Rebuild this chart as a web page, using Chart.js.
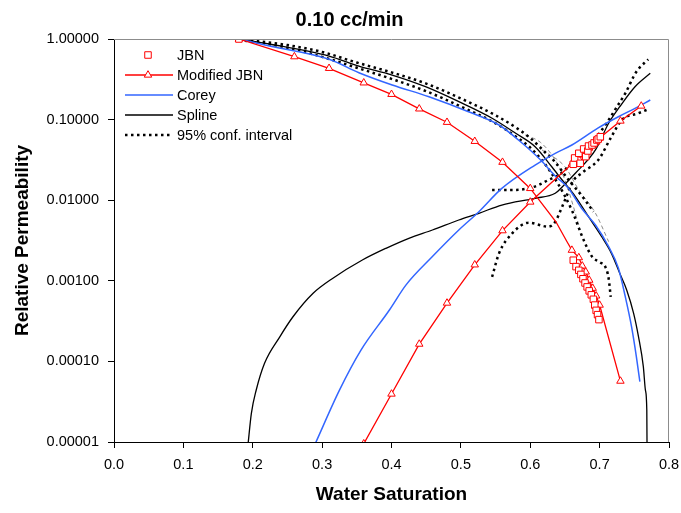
<!DOCTYPE html>
<html>
<head>
<meta charset="utf-8">
<script src="https://cdn.jsdelivr.net/npm/chart.js@4.4.0/dist/chart.umd.min.js"></script>
<style>
  html, body { margin: 0; padding: 0; background: #fff; }
</style>
</head>
<body>
<canvas id="relPermChart" width="681" height="513"></canvas>
<script>
// Values (Sw vs relative permeability)
const jbnSw  = [0.18, 0.662, 0.666, 0.670, 0.673, 0.676, 0.679, 0.682, 0.685, 0.688, 0.691, 0.693, 0.695, 0.697, 0.699];
const jbnKro = [1.0, 1.8e-3, 1.5e-3, 1.35e-3, 1.2e-3, 1.06e-3, 9.4e-4, 8.4e-4, 7.5e-4, 6.7e-4, 5.9e-4, 5.0e-4, 4.3e-4, 3.8e-4, 3.3e-4];
const jbnKrwSw = [0.662, 0.664, 0.670, 0.672, 0.677, 0.680, 0.683, 0.684, 0.689, 0.692, 0.696, 0.698, 0.701];
const jbnKrw   = [0.0279, 0.0334, 0.0382, 0.0287, 0.0432, 0.0347, 0.0408, 0.047, 0.0484, 0.0513, 0.0558, 0.0574, 0.0613];

const modKroSw = [0.18, 0.26, 0.31, 0.36, 0.40, 0.44, 0.48, 0.52, 0.56, 0.60, 0.637, 0.653, 0.66, 0.67, 0.675, 0.68, 0.685, 0.69, 0.695, 0.70, 0.73];
const modKro   = [1.0, 0.604, 0.433, 0.286, 0.206, 0.136, 0.0927, 0.0538, 0.0296, 0.014, 0.0054, 0.00305, 0.0024, 0.00194, 0.00153, 0.00129, 0.00102, 8.1e-4, 6.5e-4, 5.0e-4, 5.7e-5];
const modKroMarked = [1, 1, 1, 1, 1, 1, 1, 1, 1, 1, 0, 0, 1, 1, 1, 1, 1, 1, 1, 1, 1];
const modKrwSw = [0.36, 0.40, 0.44, 0.48, 0.52, 0.56, 0.60, 0.66, 0.67, 0.675, 0.68, 0.685, 0.69, 0.695, 0.70, 0.73, 0.76];
const modKrw   = [9.5e-6, 3.94e-5, 1.64e-4, 5.3e-4, 1.58e-3, 4.19e-3, 9.5e-3, 0.0281, 0.0324, 0.0364, 0.0396, 0.0444, 0.0484, 0.0527, 0.0591, 0.0961, 0.1475];

const coreyKroSw = [0.18, 0.224, 0.31, 0.353, 0.401, 0.454, 0.511, 0.555, 0.583, 0.615, 0.636, 0.655, 0.674, 0.694, 0.713, 0.727, 0.737, 0.746, 0.753, 0.758];
const coreyKro   = [1.0, 0.819, 0.56, 0.382, 0.269, 0.192, 0.125, 0.0857, 0.0558, 0.0315, 0.02, 0.0141, 0.00794, 0.00492, 0.00265, 0.00144, 6.35e-4, 2.7e-4, 1.14e-4, 5.6e-5];
const coreyKrwSw = [0.29, 0.325, 0.356, 0.397, 0.421, 0.459, 0.497, 0.526, 0.559, 0.607, 0.636, 0.66, 0.698, 0.727, 0.751, 0.773];
const coreyKrw   = [9.5e-6, 4.4e-5, 1.38e-4, 4.34e-4, 8.9e-4, 2.0e-3, 4.27e-3, 7.2e-3, 0.014, 0.0273, 0.0382, 0.0484, 0.079, 0.1086, 0.138, 0.175];

const splineKroSw = [0.18, 0.224, 0.31, 0.353, 0.401, 0.449, 0.497, 0.545, 0.579, 0.607, 0.631, 0.646, 0.665, 0.684, 0.703, 0.717, 0.729, 0.739, 0.749, 0.756, 0.763, 0.766, 0.768, 0.7685];
const splineKro   = [1.0, 0.867, 0.615, 0.462, 0.357, 0.256, 0.167, 0.104, 0.0676, 0.0461, 0.026, 0.0178, 0.0111, 0.00624, 0.00352, 0.00219, 0.00124, 7.7e-4, 3.95e-4, 2.03e-4, 8.6e-5, 4.4e-5, 2.5e-5, 5e-6];
const splineKrwSw = [0.193, 0.198, 0.205, 0.217, 0.239, 0.258, 0.287, 0.315, 0.358, 0.392, 0.425, 0.459, 0.497, 0.526, 0.559, 0.607, 0.636, 0.646, 0.665, 0.694, 0.713, 0.729, 0.751, 0.773];
const splineKrw   = [9e-6, 2.27e-5, 4.42e-5, 9.5e-5, 2.02e-4, 3.58e-4, 7.0e-4, 1.07e-3, 1.81e-3, 2.53e-3, 3.37e-3, 4.27e-3, 5.68e-3, 6.88e-3, 8.71e-3, 0.01056, 0.0122, 0.0146, 0.0216, 0.042, 0.09, 0.1445, 0.256, 0.376];

// 95% confidence bands (black dotted)
const kroUpSw  = [0.18, 0.25, 0.30, 0.35, 0.40, 0.45, 0.50, 0.55, 0.58, 0.60, 0.626, 0.634, 0.655, 0.677, 0.691];
const kroUp    = [1.0, 0.84, 0.69, 0.51, 0.385, 0.28, 0.183, 0.113, 0.079, 0.059, 0.036, 0.031, 0.018, 0.0106, 0.0072];
const kroLowSw = [0.18, 0.25, 0.30, 0.35, 0.40, 0.45, 0.50, 0.55, 0.58, 0.60, 0.62, 0.64, 0.66, 0.677, 0.689, 0.70, 0.708, 0.713, 0.716];
const kroLow   = [0.98, 0.78, 0.60, 0.44, 0.32, 0.225, 0.145, 0.09, 0.061, 0.045, 0.029, 0.016, 0.0075, 0.0032, 0.002, 0.0017, 0.0015, 0.00107, 6.3e-4];
const krwUpSw  = [0.545, 0.579, 0.598, 0.612, 0.626, 0.641, 0.655, 0.670, 0.684, 0.698, 0.713, 0.725, 0.737, 0.753, 0.770];
const krwUp    = [0.0134, 0.0134, 0.0141, 0.0154, 0.0178, 0.0205, 0.026, 0.0347, 0.0461, 0.0644, 0.099, 0.1445, 0.212, 0.393, 0.56];
const krwLowSw = [0.545, 0.555, 0.574, 0.598, 0.626, 0.636, 0.646, 0.653, 0.66, 0.675, 0.698, 0.717, 0.732, 0.756, 0.77];
const krwLow   = [1.12e-3, 2.19e-3, 3.88e-3, 5.26e-3, 4.69e-3, 5.41e-3, 8.3e-3, 0.0116, 0.0165, 0.022, 0.0315, 0.0613, 0.099, 0.12, 0.134];

// thin grey dashed lines near the kro drop
const grey1Sw = [0.593, 0.615, 0.636, 0.650, 0.672];
const grey1   = [0.0644, 0.052, 0.0315, 0.0178, 0.0043];
const grey2Sw = [0.617, 0.650, 0.670, 0.694, 0.713];
const grey2   = [0.042, 0.026, 0.0134, 0.0069, 0.00306];

const xTicks = [0, 0.1, 0.2, 0.3, 0.4, 0.5, 0.6, 0.7, 0.8];
const yTicks = [0.00001, 0.0001, 0.001, 0.01, 0.1, 1];
const legendLabels = ['JBN', 'Modified JBN', 'Corey', 'Spline', '95% conf. interval'];

const FONT = "'Liberation Sans', Arial, sans-serif";
const RED = '#ff0000';
const BLUE = '#3366ff';

function pts(xs, ys) {
    return xs.map((x, i) => ({ x: x, y: ys[i] }));
}

function squares(xs, ys) {
    return {
        data: pts(xs, ys), showLine: false,
        pointStyle: 'rect', pointRadius: 4.6, pointBorderWidth: 1,
        pointBorderColor: RED, pointBackgroundColor: '#fff', borderColor: RED
    };
}

function triangles(xs, ys, marked) {
    return {
        data: pts(xs, ys), showLine: true, borderColor: RED, borderWidth: 1.3,
        pointStyle: 'triangle',
        pointRadius: marked ? marked.map(m => m ? 4.3 : 0) : 4.3,
        pointBorderWidth: 1, pointBorderColor: RED, pointBackgroundColor: '#fff'
    };
}

function curve(xs, ys, color, width, dash) {
    return {
        data: pts(xs, ys), showLine: true, borderColor: color, borderWidth: width,
        borderDash: dash || [], pointRadius: 0, cubicInterpolationMode: 'monotone'
    };
}

const dotted = [2.5, 3.5];

const datasets = [
    squares(jbnSw, jbnKro),                          // 0
    squares(jbnKrwSw, jbnKrw),                       // 1
    triangles(modKroSw, modKro, modKroMarked),       // 2
    triangles(modKrwSw, modKrw),                     // 3
    curve(coreyKroSw, coreyKro, BLUE, 1.5),          // 4
    curve(coreyKrwSw, coreyKrw, BLUE, 1.5),          // 5
    curve(splineKroSw, splineKro, '#000', 1.3),      // 6
    curve(splineKrwSw, splineKrw, '#000', 1.3),      // 7
    curve(kroUpSw, kroUp, '#000', 2.5, dotted),      // 8
    curve(kroLowSw, kroLow, '#000', 2.5, dotted),    // 9
    curve(krwUpSw, krwUp, '#000', 2.5, dotted),      // 10
    curve(krwLowSw, krwLow, '#000', 2.5, dotted),    // 11
    curve(grey1Sw, grey1, '#8a8a8a', 1, [4, 3]),     // 12
    curve(grey2Sw, grey2, '#8a8a8a', 1, [4, 3])      // 13
];

// which dataset each legend row copies its look from
const legendSource = [0, 2, 4, 6, 8];

// Excel-like legend drawn inside the plot area
const insideLegend = {
    id: 'insideLegend',
    afterDraw(chart) {
        const ctx = chart.ctx;
        const area = chart.chartArea;
        ctx.save();
        ctx.font = '14.5px ' + FONT;
        ctx.textBaseline = 'middle';
        legendLabels.forEach((label, i) => {
            const ds = chart.data.datasets[legendSource[i]];
            const y = area.top + 16 + i * 20;
            const x0 = area.left + 11, x1 = area.left + 59, xm = area.left + 34;
            if (ds.showLine) {
                ctx.strokeStyle = ds.borderColor;
                ctx.lineWidth = ds.borderWidth;
                ctx.setLineDash(ds.borderDash || []);
                ctx.beginPath();
                ctx.moveTo(x0, y);
                ctx.lineTo(x1, y);
                ctx.stroke();
                ctx.setLineDash([]);
            }
            if (ds.pointStyle) {
                ctx.strokeStyle = RED;
                ctx.fillStyle = '#fff';
                ctx.lineWidth = 1;
                Chart.helpers.drawPoint(ctx, {
                    pointStyle: ds.pointStyle, radius: ds.pointStyle === 'rect' ? 4.6 : 4.3,
                    rotation: 0, borderWidth: 1
                }, xm, y);
            }
            ctx.fillStyle = '#000';
            ctx.fillText(label, area.left + 63, y + 1);
        });
        ctx.restore();
    }
};

// grey frame on top and right of the plot area
const plotFrame = {
    id: 'plotFrame',
    afterLayout(chart) {
        // the chart title sits a little right of the canvas centre, as in the source
        chart.titleBlock.left += 15;
        chart.titleBlock.right += 15;
    },
    afterDraw(chart) {
        const { ctx, chartArea: a } = chart;
        ctx.save();
        ctx.strokeStyle = '#8c8c8c';
        ctx.lineWidth = 1;
        ctx.beginPath();
        ctx.moveTo(a.left, a.top + 0.5);
        ctx.lineTo(a.right - 0.5, a.top + 0.5);
        ctx.lineTo(a.right - 0.5, a.bottom);
        ctx.stroke();
        ctx.restore();
    }
};

const ctx = document.getElementById('relPermChart').getContext('2d');
const myChart = new Chart(ctx, {
    type: 'scatter',
    data: { datasets: datasets },
    options: {
        responsive: false,
        animation: false,
        devicePixelRatio: 1,
        layout: { padding: { left: 0, right: 12, top: 0, bottom: 0 } },
        plugins: {
            legend: { display: false },
            tooltip: { enabled: false },
            title: {
                display: true,
                text: '0.10 cc/min',
                color: '#000',
                font: { family: FONT, size: 20, weight: 'bold' },
                padding: { top: 8, bottom: 7 }
            }
        },
        scales: {
            x: {
                type: 'linear',
                min: 0, max: 0.8,
                afterBuildTicks: s => { s.ticks = xTicks.map(v => ({ value: v })); },
                afterFit: s => { s.height = 71; s.paddingLeft = 0; s.paddingRight = 0; },
                ticks: {
                    color: '#000', padding: 8,
                    font: { family: FONT, size: 14.5 },
                    callback: v => Number(v).toFixed(1)
                },
                grid: { drawOnChartArea: false, drawTicks: true, tickLength: 6, color: '#000' },
                border: { display: true, color: '#000', width: 1 },
                title: {
                    display: true, text: 'Water Saturation', color: '#000',
                    font: { family: FONT, size: 19, weight: 'bold' },
                    padding: { top: 0, bottom: 7 }
                }
            },
            y: {
                type: 'logarithmic',
                min: 0.00001, max: 1,
                afterBuildTicks: s => { s.ticks = yTicks.map(v => ({ value: v })); },
                afterFit: s => { s.width = 114; },
                ticks: {
                    color: '#000', padding: 9,
                    font: { family: FONT, size: 14.5 },
                    callback: v => Number(v).toFixed(5)
                },
                grid: { drawOnChartArea: false, drawTicks: true, tickLength: 6, color: '#000' },
                border: { display: true, color: '#000', width: 1 },
                title: {
                    display: true, text: 'Relative Permeability', color: '#000',
                    font: { family: FONT, size: 19, weight: 'bold' },
                    padding: { top: 11, bottom: 0 }
                }
            }
        }
    },
    plugins: [insideLegend, plotFrame]
});
</script>
</body>
</html>
